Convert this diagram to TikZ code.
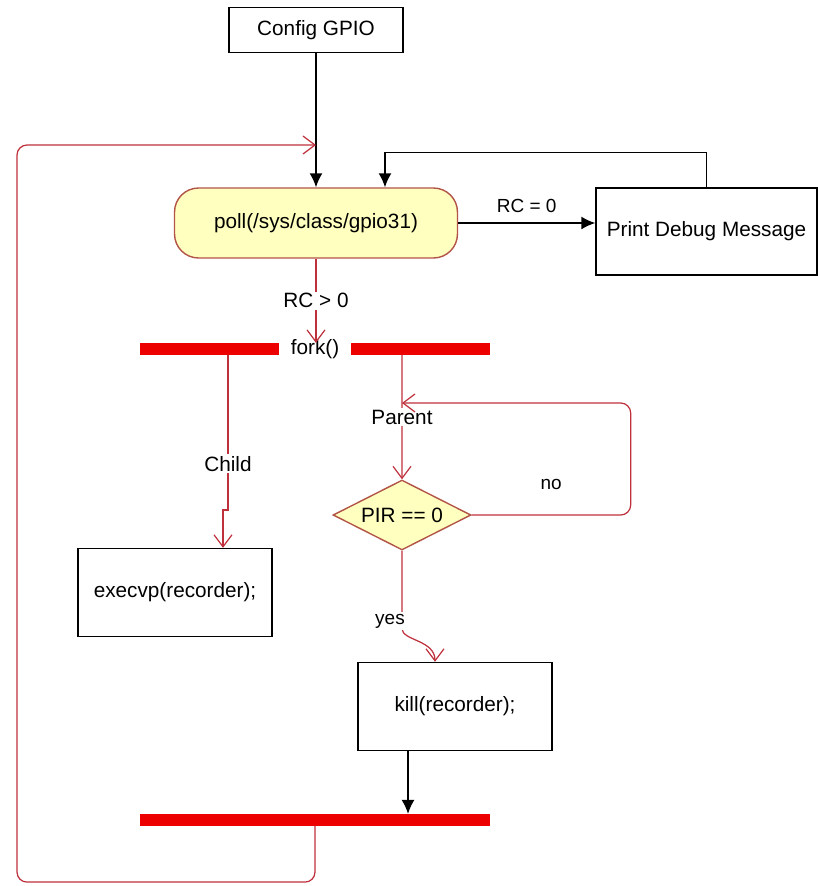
\documentclass[tikz,border=0pt]{standalone}
\usepackage{fontspec}
\setmainfont{Liberation Sans}
\usetikzlibrary{arrows.meta}
\usetikzlibrary{shapes.geometric}
\definecolor{myred}{RGB}{236,0,0}
\definecolor{mywire}{RGB}{190,48,60}
\definecolor{myyellow}{RGB}{255,255,192}
\definecolor{myedge}{RGB}{178,84,70}

\tikzset{
  box/.style={draw, line width=0.8pt, minimum width=3.88cm, minimum height=1.76cm, font=\fontsize{11.8}{14}\selectfont},
  state/.style={draw=myedge, fill=myyellow, line width=0.8pt, rounded corners=4.8mm, font=\fontsize{11.8}{14}\selectfont},
  decide/.style={diamond, aspect=2, draw=myedge, fill=myyellow, line width=0.8pt, inner sep=0pt, minimum width=2.76cm, minimum height=1.4cm, font=\fontsize{11.8}{14}\selectfont},
  bar/.style={fill=myred, minimum width=7cm, minimum height=0.23cm, inner sep=0pt},
  lbl/.style={fill=white, inner sep=1pt, font=\fontsize{11.8}{14}\selectfont},
  small/.style={inner sep=1pt, font=\fontsize{10.8}{13}\selectfont},
  wire/.style={draw=mywire, line width=0.7pt, -{Straight Barb[length=2.4mm,width=3.6mm]}},
  flow/.style={draw=black, line width=0.9pt, -{Latex[length=2.8mm,width=2.6mm]}}
}

\begin{document}
\begin{tikzpicture}[x=0.02cm, y=-0.02cm]
\useasboundingbox (0,0) rectangle (818,886);

% boxes
\node[box, minimum width=3.48cm, minimum height=0.9cm] (cfg) at (316,30) {Config GPIO};
\node[state, minimum width=5.66cm, minimum height=1.4cm] (poll) at (316,223) {poll(/sys/class/gpio31)};
\node[box, minimum width=4.42cm, minimum height=1.74cm] (dbg) at (706.5,231.5) {Print Debug Message};
\node[bar] (forkbar) at (315,349) {};
\node[lbl, minimum height=0.23cm, inner xsep=2.4mm] (forktxt) at (forkbar) {fork()};
\node[box] (exe) at (175,592.5) {execvp(recorder);};
\node[decide] (pir) at (402,515) {PIR == 0};
\node[box] (kill) at (455,706.5) {kill(recorder);};
\node[bar] (joinbar) at (315,820) {};
\coordinate (loopin) at (316,145);
\coordinate (back) at (402,403);

% arrows
\draw[flow] (cfg.south) -- (poll.north);
\draw[flow] (poll) -- node[small, above=1.5mm]{RC = 0} (dbg.west |- poll.east);
\draw[flow] (dbg.north) -- ++(0,-35) -| ([xshift=1.38cm]poll.north);
\draw[wire] (poll.south) -- node[lbl]{RC > 0} (poll.south |- forkbar.north);
\draw[wire] ([xshift=-1.74cm]forkbar.south) -- node[lbl, pos=0.7]{Child} ++(0,155) -| ([xshift=0.96cm]exe.north);
\draw[wire] ([xshift=1.74cm]forkbar.south) -- node[lbl]{Parent} (pir.north);
\draw[wire, rounded corners=2mm] (pir.east) -- node[small, above=4.5mm]{no} ++(159,0) |- (back);
\draw[wire] (pir.south) -- node[small, fill=white, pos=0.9, xshift=-0.24cm]{yes} ++(0,78) .. controls +(0,12) and +(0,-22) .. ([xshift=-0.4cm]kill.north);
\draw[flow] ([xshift=-0.94cm]kill.south) -- ([xshift=-0.94cm]kill.south |- joinbar.north);
\draw[wire, rounded corners=2mm] (joinbar.south) -- ++(0,56) -| (17,145) -- (loopin);

\end{tikzpicture}
\end{document}
